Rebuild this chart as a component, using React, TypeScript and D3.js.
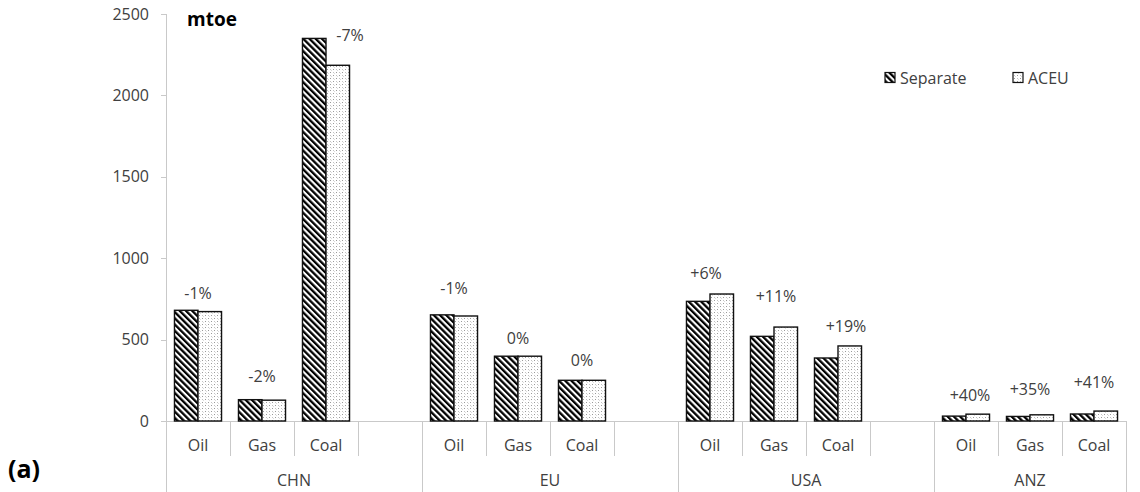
import React from "react";
import * as d3 from "d3";

const regions = ["CHN", "EU", "USA", "ANZ"];
const fuels = ["Oil", "Gas", "Coal"];
const seriesNames = ["Separate", "ACEU"];
const separateValues = [680, 131, 2350, 652, 398, 250, 735, 520, 387, 30, 28, 43];
const aceuValues = [672, 128, 2185, 645, 398, 250, 780, 577, 461, 42, 38, 61];
const changeLabels = ["-1%", "-2%", "-7%", "-1%", "0%", "0%", "+6%", "+11%", "+19%", "+40%", "+35%", "+41%"];
const labelLevels = [786, 276, 2371, 817, 510, 370, 909, 768, 584, 160, 197, 240];
const yTicks = [0, 500, 1000, 1500, 2000, 2500];

const labelDx = [0, 0, 24, 0, 0, 0, -4, 2, 8, 4, 0, 0];

const W = 1140;
const H = 492;
const FONT = "'Open Sans', 'Noto Sans', sans-serif";
const TXT = "#404040";
const AX = "#c9c9c9";

export default function App() {
  const slots: string[] = regions.flatMap((r, i) => [
    ...fuels.map((f) => r + "|" + f),
    ...(i < regions.length - 1 ? [r + "|blank"] : []),
  ]);
  const x = d3.scaleBand<string>().domain(slots).range([166, 1126]).padding(0);
  const inner = d3
    .scaleBand<string>()
    .domain(seriesNames)
    .range([0, x.bandwidth()])
    .paddingInner(0)
    .paddingOuter(0.36);
  const y = d3.scaleLinear().domain([0, 2500]).range([421, 14]);
  const y0 = y(0);

  const items = regions.flatMap((r, ri) =>
    fuels.map((f, fi) => {
      const idx = ri * fuels.length + fi;
      return {
        key: r + "|" + f,
        fuel: f,
        values: [separateValues[idx], aceuValues[idx]],
        label: changeLabels[idx],
        level: labelLevels[idx],
        dx: labelDx[idx],
      };
    })
  );

  const groupBounds = regions.map((r) => {
    const own = slots.filter((s) => s.startsWith(r + "|"));
    const x0 = x(own[0]) as number;
    const x1 = (x(own[own.length - 1]) as number) + x.bandwidth();
    return { r, x0, x1, own };
  });

  const fills = ["url(#hatch)", "url(#dots)"];

  return (
    <div style={{ position: "absolute", left: 0, top: 0 }}>
      <svg width={W} height={H} style={{ display: "block", background: "#fff" }}>
        <defs>
          <pattern
            id="hatch"
            patternUnits="userSpaceOnUse"
            width={4.4}
            height={10}
            patternTransform="rotate(-45)"
          >
            <rect x={0} y={0} width={4.4} height={10} fill="#fff" />
            <rect x={0} y={0} width={2.3} height={10} fill="#000" />
          </pattern>
          <pattern id="dots" patternUnits="userSpaceOnUse" width={6} height={6}>
            <rect x={0} y={0} width={6} height={6} fill="#fff" />
            <rect x={0} y={0} width={1} height={1} fill="#9a9a9a" />
            <rect x={3} y={3} width={1} height={1} fill="#9a9a9a" />
            <rect x={3} y={0} width={1} height={1} fill="#c4c4c4" />
            <rect x={0} y={3} width={1} height={1} fill="#c4c4c4" />
            <rect x={1} y={4} width={1} height={1} fill="#dcdcdc" />
            <rect x={4} y={1} width={1} height={1} fill="#dcdcdc" />
          </pattern>
        </defs>

        {/* y axis */}
        <line x1={166.5} x2={166.5} y1={y(2500)} y2={H} stroke={AX} strokeWidth={1} />
        {yTicks.map((t) => (
          <g key={t}>
            <line x1={161} x2={166} y1={Math.round(y(t)) + 0.5} y2={Math.round(y(t)) + 0.5} stroke={AX} />
            <text
              x={149}
              y={y(t)}
              dy="0.35em"
              textAnchor="end"
              fontFamily={FONT}
              fontSize={16}
              fill={TXT}
            >
              {t}
            </text>
          </g>
        ))}

        {/* baseline */}
        <line x1={166} x2={1126} y1={Math.round(y0) + 0.5} y2={Math.round(y0) + 0.5} stroke={AX} />

        {/* slot dividers and group dividers */}
        {groupBounds.map((g) => (
          <g key={g.r}>
            {g.own.slice(1).map((s) => (
              <line
                key={s}
                x1={Math.round(x(s) as number) + 0.5}
                x2={Math.round(x(s) as number) + 0.5}
                y1={y0}
                y2={456}
                stroke={AX}
              />
            ))}
            <line
              x1={Math.round(g.x1) + 0.5}
              x2={Math.round(g.x1) + 0.5}
              y1={y0}
              y2={H}
              stroke={AX}
            />
            <text
              x={(g.x0 + g.x1) / 2}
              y={486}
              textAnchor="middle"
              fontFamily={FONT}
              fontSize={16}
              fill={TXT}
            >
              {g.r}
            </text>
          </g>
        ))}

        {/* fuel labels */}
        {slots
          .filter((s) => !s.endsWith("|blank"))
          .map((s) => (
            <text
              key={s}
              x={(x(s) as number) + x.bandwidth() / 2}
              y={451}
              textAnchor="middle"
              fontFamily={FONT}
              fontSize={16}
              fill={TXT}
            >
              {s.split("|")[1]}
            </text>
          ))}

        {/* bars */}
        {items.map((it) => (
          <g key={it.key} transform={`translate(${x(it.key)},0)`}>
            {it.values.map((v, si) => (
              <rect
                key={si}
                x={inner(seriesNames[si])}
                y={y(v)}
                width={inner.bandwidth()}
                height={y0 - y(v)}
                fill={fills[si]}
                stroke="#111"
                strokeWidth={1.4}
              />
            ))}
            <text
              x={x.bandwidth() / 2 + it.dx}
              y={y(it.level)}
              dy="0.35em"
              textAnchor="middle"
              fontFamily={FONT}
              fontSize={16}
              fill={TXT}
            >
              {it.label}
            </text>
          </g>
        ))}

        {/* title */}
        <text x={187} y={26} fontFamily={FONT} fontSize={19} fontWeight="bold" fill="#000">
          mtoe
        </text>
        <text x={8} y={478} fontFamily={FONT} fontSize={25} fontWeight="bold" fill="#000">
          (a)
        </text>

        {/* legend */}
        {seriesNames.map((n, i) => {
          const lx = i === 0 ? 885 : 1013;
          return (
            <g key={n}>
              <rect x={lx} y={72.5} width={10} height={10} fill={fills[i]} stroke="#111" strokeWidth={1.2} />
              <text x={lx + 15} y={83.5} fontFamily={FONT} fontSize={16} fill={TXT}>
                {n}
              </text>
            </g>
          );
        })}
      </svg>
    </div>
  );
}
